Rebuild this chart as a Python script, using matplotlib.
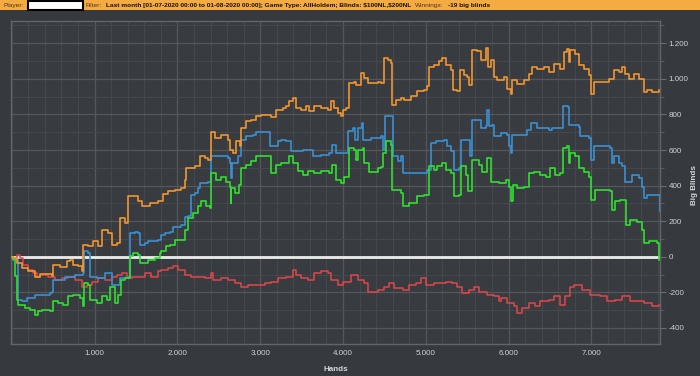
import matplotlib
matplotlib.use('Agg')
from matplotlib import pyplot as plt
from matplotlib.ticker import FuncFormatter, MultipleLocator
from matplotlib.patches import Rectangle

plt.rcParams['font.family'] = ['Liberation Sans', 'DejaVu Sans']

# Werte (Hände, Big Blinds)
orange_hands = [0, 20, 60, 120, 200, 281, 341, 482, 502, 582, 663, 703, 743, 803, 843, 864, 924, 984, 1044, 1085,
                1165, 1205, 1265, 1305, 1366, 1406, 1466, 1527, 1567, 1667, 1768, 1828, 1888, 1968, 2049, 2089, 2109,
                2209, 2269, 2329, 2369, 2402, 2450, 2530, 2611, 2631, 2671, 2711, 2752, 2772, 2832, 2892, 2953, 3013,
                3093, 3133, 3193, 3274, 3314, 3354, 3394, 3434, 3495, 3555, 3595, 3655, 3736, 3816, 3856, 3896, 3936,
                3977, 3997, 4037, 4077, 4137, 4157, 4217, 4258, 4298, 4338, 4418, 4459, 4499, 4539, 4579, 4591, 4639,
                4699, 4740, 4820, 4900, 4981, 5021, 5041, 5101, 5161, 5201, 5241, 5302, 5334, 5382, 5414, 5462, 5502,
                5522, 5563, 5623, 5663, 5723, 5751, 5783, 5824, 5864, 5944, 5984, 6025, 6045, 6105, 6186, 6246, 6286,
                6346, 6427, 6487, 6547, 6627, 6668, 6708, 6728, 6748, 6808, 6848, 6909, 6969, 6997, 7029, 7110, 7210,
                7270, 7330, 7370, 7411, 7451, 7511, 7571, 7631, 7672, 7732, 7812]
orange_bb = [0, -7, -36, -64, -82, -111, -97, -107, -45, -58, -26, -17, -45, -54, -82, 67, 58, 86, 58, 152,
             133, 67, 77, 217, 189, 339, 343, 315, 283, 302, 315, 352, 367, 376, 386, 433, 498,
             508, 564, 555, 545, 704, 667, 686, 657, 601, 583, 648, 620, 723, 761, 770, 789, 798,
             798, 785, 826, 835, 845, 873, 892, 835, 826, 845, 817, 845, 835, 826, 873, 838, 810,
             791, 826, 838, 976, 985, 966, 1032, 1004, 976, 976, 985, 976, 1116, 1107, 1088, 854, 882,
             891, 882, 901, 929, 938, 957, 1069, 1079, 1098, 1116, 1079, 1051, 938, 929, 1051, 1023, 1013,
             966, 1163, 1154, 1107, 1173, 1069, 1107, 1011, 992, 1011, 945, 917, 992, 973, 992, 1029,
             1067, 1057, 1067, 1039, 1086, 1057, 1151, 1170, 1095, 1160, 1142, 1076, 1057, 1020, 917, 982, 982, 1001,
             1048, 1039, 1067, 1029, 1001, 1029, 1001, 926, 935, 926, 935]

blue_hands = [0, 20, 72, 120, 180, 281, 462, 482, 502, 643, 763, 864, 876, 924, 944, 1024, 1125, 1205, 1285, 1305,
              1406, 1426, 1486, 1527, 1547, 1607, 1647, 1768, 1808, 1848, 1908, 1948, 2049, 2089, 2129, 2169, 2209,
              2249, 2269, 2369, 2402, 2510, 2611, 2631, 2643, 2659, 2731, 2764, 2832, 2912, 2953, 3093, 3113, 3173,
              3214, 3254, 3314, 3374, 3515, 3635, 3736, 3836, 3864, 3904, 3920, 3977, 4057, 4117, 4145, 4177, 4225,
              4246, 4338, 4459, 4479, 4507, 4579, 4599, 4639, 4660, 4700, 4720, 4900, 5021, 5061, 5121, 5221, 5262,
              5310, 5342, 5402, 5422, 5502, 5534, 5563, 5643, 5663, 5723, 5743, 5763, 5803, 5823, 5904, 5984, 6005,
              6033, 6045, 6186, 6226, 6266, 6346, 6487, 6527, 6627, 6660, 6716, 6728, 6848, 6860, 6969, 6997, 7029,
              7230, 7250, 7278, 7330, 7370, 7411, 7491, 7571, 7611, 7631, 7672, 7812, 7824]
blue_bb = [0, -20, -242, -251, -232, -214, -205, -197, -129, -111, -101, -92, 30, 21, -111, -120, -92, -157, -157, -120,
           -111, 133, 142, 133, 67, 77, 86, 95, 124, 133, 142, 170, 180, 223, 232, 348, 357,
           386, 414, 423, 564, 564, 555, 526, 442, 526, 564, 658, 676, 686, 704, 704, 620, 620,
           648, 658, 648, 592, 601, 564, 573, 583, 629, 629, 583, 583, 705, 724, 657, 724, 752,
           657, 667, 676, 601, 789, 789, 564, 564, 536, 564, 470, 470, 489, 639, 648, 657, 620,
           592, 489, 498, 657, 657, 564, 770, 770, 724, 733, 826, 733, 742, 676, 695, 685, 620,
           582, 685, 685, 713, 751, 723, 713, 723, 723, 845, 840, 742, 732, 676, 667, 545, 620,
           611, 526, 564, 526, 508, 423, 461, 442, 395, 330, 348, 348, 255]

green_hands = [0, 20, 40, 60, 80, 161, 221, 281, 321, 361, 462, 502, 562, 622, 683, 743, 823, 864, 876, 924,
               944, 1024, 1085, 1145, 1185, 1245, 1285, 1318, 1366, 1426, 1466, 1527, 1547, 1647, 1728, 1788, 1808,
               1868, 1908, 1968, 2029, 2089, 2129, 2189, 2249, 2289, 2350, 2390, 2410, 2470, 2530, 2591, 2631, 2643,
               2651, 2699, 2740, 2772, 2832, 2892, 2953, 3093, 3125, 3193, 3254, 3314, 3354, 3394, 3455, 3515, 3575,
               3655, 3736, 3836, 3864, 3916, 3977, 4017, 4077, 4137, 4157, 4177, 4237, 4258, 4318, 4418, 4459, 4479,
               4519, 4579, 4591, 4660, 4700, 4720, 4800, 4900, 4981, 5041, 5101, 5141, 5201, 5241, 5310, 5342, 5402,
               5422, 5482, 5510, 5563, 5643, 5683, 5743, 5783, 5824, 5884, 5964, 6005, 6033, 6053, 6105, 6186, 6246,
               6306, 6386, 6447, 6507, 6567, 6627, 6660, 6708, 6728, 6748, 6808, 6848, 6909, 6969, 6997, 7049, 7150,
               7222, 7250, 7290, 7350, 7423, 7471, 7551, 7611, 7631, 7692, 7792, 7816]
green_bb = [0, -15, -107, -242, -270, -288, -298, -326, -307, -298, -307, -251, -261, -270, -223, -214, -232, -279, -148,
            -157, -242, -261, -223, -242, -167, -261, -214, -129, -120, 4, 21, 11, -36, -17, -7, 21, 30,
            58, 67, 95, 95, 152, 217, 245, 283, 311, 283, 273, 470, 433, 451, 423, 395, 302,
            386, 358, 405, 498, 517, 536, 564, 564, 470, 517, 526, 526, 564, 526, 480, 461, 480,
            470, 480, 470, 517, 433, 414, 451, 611, 601, 545, 601, 611, 526, 479, 498, 507, 582,
            648, 629, 376, 376, 357, 283, 302, 339, 348, 508, 489, 508, 526, 489, 470, 339, 348,
            508, 461, 367, 545, 517, 479, 554, 423, 423, 414, 432, 395, 311, 405, 386, 395, 470,
            479, 461, 451, 498, 461, 470, 611, 620, 526, 582, 564, 498, 479, 451, 320, 376, 376,
            367, 264, 311, 320, 180, 208, 198, 152, 77, 86, 77, -17]

red_hands = [0, 20, 60, 100, 141, 201, 261, 301, 341, 442, 522, 602, 683, 763, 843, 904, 964, 1044, 1125, 1205,
             1265, 1326, 1386, 1446, 1527, 1607, 1687, 1768, 1808, 1888, 1948, 2009, 2089, 2169, 2249, 2329, 2402,
             2430, 2530, 2611, 2691, 2772, 2852, 2973, 3053, 3133, 3214, 3314, 3394, 3434, 3495, 3575, 3655, 3736,
             3816, 3856, 3936, 3997, 4097, 4177, 4258, 4298, 4418, 4499, 4559, 4619, 4720, 4800, 4880, 4941, 5001,
             5101, 5181, 5241, 5322, 5382, 5442, 5522, 5583, 5643, 5743, 5823, 5883, 5904, 5984, 6065, 6105, 6166,
             6246, 6326, 6386, 6487, 6547, 6627, 6688, 6748, 6788, 6889, 6989, 7110, 7190, 7290, 7370, 7471, 7551,
             7631, 7732, 7812]
red_bb = [0, -7, 11, -7, -45, -73, -92, -111, -101, -111, -129, -120, -111, -129, -167, -157, -139, -120, -129, -111,
          -101, -92, -120, -111, -111, -92, -111, -82, -73, -64, -54, -73, -101, -111, -111, -120, -92,
          -129, -120, -129, -148, -167, -157, -157, -148, -139, -120, -111, -73, -101, -120, -129, -92, -82,
          -92, -129, -157, -139, -101, -129, -148, -195, -186, -167, -148, -176, -186, -157, -148, -120, -157,
          -148, -148, -139, -148, -167, -204, -186, -167, -195, -214, -223, -251, -232, -261, -279, -317, -289,
          -261, -279, -251, -242, -223, -270, -223, -167, -157, -186, -214, -223, -251, -242, -223, -251, -251,
          -261, -279, -270]

header_parts = [('Player:', 'normal', '#4a3a20'),
                ('Filter:', 'normal', '#4a3a20'),
                (r'Last month [01-07-2020 00:00 to 01-08-2020 00:00]; Game Type: AllHoldem; Blinds: \$100NL,\$200NL',
                 'bold', '#111111'),
                ('Winnings:', 'normal', '#4a3a20'),
                ('-19 big blinds', 'bold', '#111111')]
header_x = [3, 85, 106, 414, 437]

W, H = 700, 376


def thousands(v, pos):
    return '{:,.0f}'.format(v).replace(',', '.')


fig = plt.figure(figsize=(7, 3.76), dpi=100)
fig.patch.set_facecolor('#36393d')

ax = fig.add_axes([11 / W, 32 / H, 649 / W, 323 / H])
ax.set_facecolor('#383b40')

ax.axhline(0, color='#ececec', lw=2, zorder=2)
ax.plot(red_hands, red_bb, drawstyle='steps-post', color='#e0474a', lw=1.1, zorder=3)
ax.plot(blue_hands, blue_bb, drawstyle='steps-post', color='#3b90d2', lw=1.2, zorder=3)
ax.plot(green_hands, green_bb, drawstyle='steps-post', color='#2fe02f', lw=1.2, zorder=4)
ax.plot(orange_hands, orange_bb, drawstyle='steps-post', color='#f2962e', lw=1.2, zorder=4)

ax.set_xlim(-10, 7830)
ax.set_ylim(-490, 1325)

ax.xaxis.set_major_locator(MultipleLocator(1000))
ax.xaxis.set_minor_locator(MultipleLocator(200))
ax.yaxis.set_major_locator(MultipleLocator(200))
ax.yaxis.set_minor_locator(MultipleLocator(100))
ax.xaxis.set_major_formatter(FuncFormatter(thousands))
ax.yaxis.set_major_formatter(FuncFormatter(thousands))
ax.set_xticks([t for t in range(1000, 8000, 1000)])

ax.yaxis.tick_right()
ax.grid(which='major', color='#54585d', lw=0.9)
ax.grid(which='minor', color='#45484d', lw=0.7)
ax.set_axisbelow(True)

ax.tick_params(axis='x', which='both', length=0, pad=4, labelsize=5.8, labelcolor='#d2d2d2')
ax.tick_params(axis='y', which='major', length=4, width=0.8, color='#6a6e73', pad=2,
               labelsize=5.8, labelcolor='#d2d2d2')
ax.tick_params(axis='y', which='minor', length=3, width=0.6, color='#5c6065')
for s in ax.spines.values():
    s.set_color('#62666b')
    s.set_linewidth(1)

ax.set_xlabel('Hands', fontsize=5.8, fontweight='bold', color='#d8d8d8', labelpad=7)
fig.text(694 / W, 1 - 185 / H, 'Big Blinds', rotation=90, fontsize=5.8, fontweight='bold',
         color='#d8d8d8', ha='center', va='center')

# Kopfzeile
fig.add_artist(Rectangle((0, 1 - 10 / H), 1, 10 / H, transform=fig.transFigure,
                         facecolor='#f4ab42', edgecolor='none'))
fig.add_artist(Rectangle((28 / W, 1 - 9.5 / H), 55 / W, 8.5 / H, transform=fig.transFigure,
                         facecolor='white', edgecolor='black', lw=1.5))
renderer = fig.canvas.get_renderer()
probe = fig.text(0, 0, header_parts[2][0], fontsize=10, fontweight='bold', fontstretch='condensed')
head_size = 10 * (410 - 106) / probe.get_window_extent(renderer).width
probe.remove()
x_next = 0
for (txt, wt, col), x0 in zip(header_parts, header_x):
    x0 = max(x0, x_next)
    t = fig.text(x0 / W, 1 - 5.3 / H, txt, fontsize=head_size, fontweight=wt, color=col,
                 fontstretch='condensed', va='center', ha='left')
    x_next = x0 + t.get_window_extent(renderer).width + 4

fig.savefig('out.png', dpi=100, facecolor=fig.get_facecolor())
